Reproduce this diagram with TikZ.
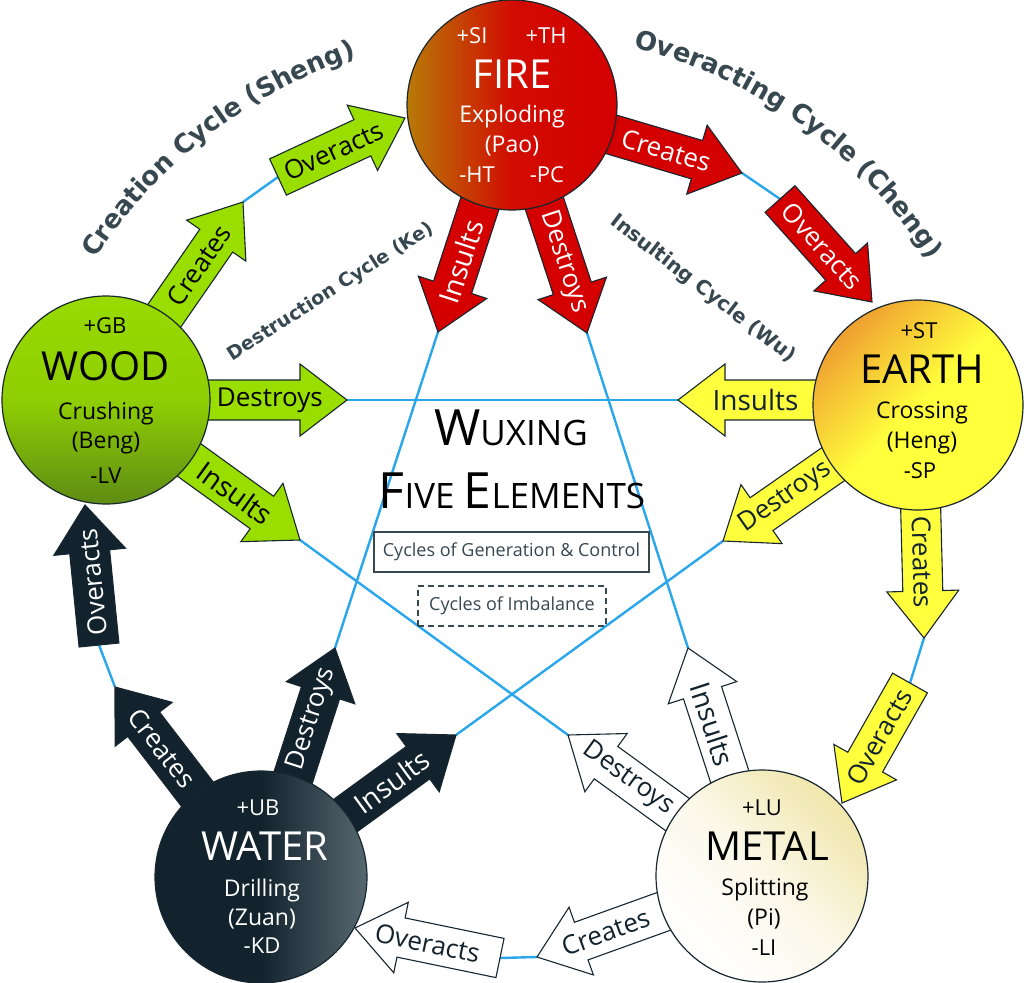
\documentclass[tikz,border=0pt]{standalone}
\usepackage{fontspec}
\setmainfont{Open Sans}
\newfontfamily\cyc{DejaVu Sans}
\usetikzlibrary{calc,decorations.text}

\definecolor{outl}{RGB}{23,38,47}
\definecolor{blu}{RGB}{42,166,236}
\definecolor{grn}{RGB}{154,222,0}
\definecolor{rd}{RGB}{212,0,0}
\definecolor{yel}{RGB}{255,255,62}
\definecolor{drk}{RGB}{18,35,46}
\definecolor{slate}{RGB}{55,72,80}
\definecolor{fireL}{RGB}{184,122,8}
\definecolor{woodT}{RGB}{152,218,0}
\definecolor{woodB}{RGB}{94,140,20}
\definecolor{earthO}{RGB}{239,160,48}
\definecolor{earthY}{RGB}{255,255,60}
\definecolor{waterL}{RGB}{88,104,112}
\definecolor{metalY}{RGB}{240,230,172}

\newcommand\fs[1]{\fontsize{#1bp}{#1bp}\selectfont}
\newcommand\cycfmt{\cyc\bfseries\fontsize{26bp}{30bp}\selectfont\color{slate}}

% block arrow: style, from, tip, label pos, label rotation, label style, label
\newcommand\BA[7]{%
  \coordinate (hb) at ($(#3)!47bp!(#2)$);
  \path[#1] ($(#2)!20bp!90:(#3)$) -- ($(hb)!20bp!90:(#3)$) -- ($(hb)!36bp!90:(#3)$) -- (#3)
     -- ($(hb)!36bp!-90:(#3)$) -- ($(hb)!20bp!-90:(#3)$) -- ($(#2)!20bp!-90:(#3)$) -- cycle;
  \path (#2) -- (#3) node[pos=#4, rotate=#5, #6] {#7};
}

\begin{document}
\begin{tikzpicture}[x=1bp,y=-1bp,
  ab/.style={draw=outl, line width=1.1bp, line join=miter},
  ga/.style={ab, fill=grn}, ra/.style={ab, fill=rd}, ya/.style={ab, fill=yel},
  da/.style={ab, fill=drk}, wa/.style={ab, fill=white},
  lbl/.style={font=\fs{26}, inner sep=0pt},
  gt/.style={lbl, text=black}, wt/.style={lbl, text=white}, dt/.style={lbl, text=drk},
  el/.style={circle, inner sep=0pt, draw=outl, line width=1.2bp},
  blueline/.style={draw=blu, line width=2.4bp},
  ctext/.style={anchor=base, inner sep=0pt},
  ]
\useasboundingbox (0,0) rectangle (1024,983);
\fill[white] (0,0) rectangle (1024,983);

% centres
\coordinate (cF) at (512,105);
\coordinate (cW) at (106,400);
\coordinate (cE) at (918,405);
\coordinate (cEi) at (918,400);
\coordinate (cA) at (261,877);
\coordinate (cM) at (762,876);
% arrow ends
\coordinate (wC) at (243,202); \coordinate (wOs) at (278,177); \coordinate (wO) at (405,118);
\coordinate (wD) at (347,400); \coordinate (wI) at (300,540);
\coordinate (fC) at (742,173); \coordinate (fOs) at (780,199); \coordinate (fO) at (872,302);
\coordinate (fI) at (438,332); \coordinate (fD) at (587,333);
\coordinate (eI) at (678,400); \coordinate (eD) at (723,541); \coordinate (eC) at (924,638);
\coordinate (eOs) at (910,683); \coordinate (eO) at (842,803);
\coordinate (mI) at (688,648); \coordinate (mD) at (568,735); \coordinate (mC) at (537,957);
\coordinate (mOs) at (500,958); \coordinate (mO) at (355,928);
\coordinate (aC) at (115,687); \coordinate (aOs) at (99,645); \coordinate (aO) at (85,505);
\coordinate (aD) at (335,648); \coordinate (aI) at (456,735);

% blue cycle lines
\draw[blueline] (wC) -- (wOs);
\draw[blueline] (fC) -- (fOs);
\draw[blueline] (eC) -- (eOs);
\draw[blueline] (mC) -- (mOs);
\draw[blueline] (aC) -- (aOs);
\draw[blueline] (wD) -- (eI);
\draw[blueline] (wI) -- (mD);
\draw[blueline] (fI) -- (aD);
\draw[blueline] (fD) -- (mI);
\draw[blueline] (eD) -- (aI);

% WOOD arrows
\BA{ga}{cW}{wC}{0.68}{55.3}{gt}{Creates}
\BA{ga}{wOs}{wO}{0.44}{24.9}{gt}{Overacts}
\BA{ga}{cW}{wD}{0.68}{0}{gt}{Destroys}
\BA{ga}{cW}{wI}{0.665}{-35.8}{gt,font=\fs{28}}{Insults}
% FIRE arrows
\BA{ra}{cF}{fC}{0.67}{-16.5}{wt}{Creates}
\BA{ra}{fOs}{fO}{0.46}{-48.2}{wt}{Overacts}
\BA{ra}{cF}{fI}{0.69}{72}{wt,font=\fs{28}}{Insults}
\BA{ra}{cF}{fD}{0.687}{-71.8}{wt}{Destroys}
% EARTH arrows
\BA{ya}{cEi}{eI}{0.677}{0}{dt,font=\fs{28}}{Insults}
\BA{ya}{cE}{eD}{0.68}{34.9}{dt}{Destroys}
\BA{ya}{cE}{eC}{0.674}{-88.5}{dt}{Creates}
\BA{ya}{eOs}{eO}{0.45}{60.5}{dt}{Overacts}
% METAL arrows
\BA{wa}{cM}{mI}{0.666}{-72}{dt,font=\fs{28}}{Insults}
\BA{wa}{cM}{mD}{0.69}{-36}{dt}{Destroys}
\BA{wa}{cM}{mC}{0.695}{19.8}{dt}{Creates}
\BA{wa}{mOs}{mO}{0.5}{-11.7}{dt}{Overacts}
% WATER arrows
\BA{da}{cA}{aC}{0.677}{-52.5}{wt}{Creates}
\BA{da}{aOs}{aO}{0.45}{95.7}{wt}{Overacts}
\BA{da}{cA}{aD}{0.69}{72.1}{wt}{Destroys}
\BA{da}{cA}{aI}{0.67}{36}{wt,font=\fs{28}}{Insults}

% element circles
\node[el, minimum size=210bp, left color=fireL, right color=rd, middle color=rd!90!fireL] (fire) at (cF) {};
\node[el, minimum size=208bp, top color=woodT, bottom color=woodB, middle color=woodT!85!woodB] (wood) at (cW) {};
\node[el, minimum size=210bp, top color=earthO, bottom color=earthY, middle color=earthY, shading angle=45] (earth) at (cE) {};
\node[el, minimum size=212bp, left color=drk, right color=waterL, middle color=drk] (water) at (cA) {};
\node[el, minimum size=212bp, top color=metalY, bottom color=white, middle color=metalY!25!white, shading angle=-45] (metal) at (cM) {};

% FIRE text
\node[ctext, text=white, font=\fs{22}] (fsi) at (472,43) {+SI};
\node[ctext, text=white, font=\fs{22}] (fth) at (546,43) {+TH};
\node[ctext, text=white, font=\fs{40}] (fname) at (512,88) {FIRE};
\node[ctext, text=white, font=\fs{23}] (f1) at (512,122) {Exploding};
\node[ctext, text=white, font=\fs{23}] (f2) at (512,152) {(Pao)};
\node[ctext, text=white, font=\fs{22}] (fht) at (477,182) {-HT};
\node[ctext, text=white, font=\fs{22}] (fpc) at (547,182) {-PC};
% WOOD text
\node[ctext, font=\fs{22}] (wgb) at (105,333) {+GB};
\node[ctext, font=\fs{40}] (wname) at (106,380) {WOOD};
\node[ctext, font=\fs{23}] (w1) at (106,419) {Crushing};
\node[ctext, font=\fs{23}] (w2) at (106,448) {(Beng)};
\node[ctext, font=\fs{22}] (w3) at (106,483) {-LV};
% EARTH text
\node[ctext, font=\fs{22}] (est) at (919,338) {+ST};
\node[ctext, font=\fs{40}] (ename) at (922,383) {EARTH};
\node[ctext, font=\fs{23}] (e1) at (922,418) {Crossing};
\node[ctext, font=\fs{23}] (e2) at (922,448) {(Heng)};
\node[ctext, font=\fs{22}] (e3) at (920,478) {-SP};
% WATER text
\node[ctext, text=white, font=\fs{22}] (aub) at (258,815) {+UB};
\node[ctext, text=white, font=\fs{40}] (aname) at (265,860) {WATER};
\node[ctext, text=white, font=\fs{23}] (a1) at (262,896) {Drilling};
\node[ctext, text=white, font=\fs{23}] (a2) at (262,925) {(Zuan)};
\node[ctext, text=white, font=\fs{22}] (a3) at (262,953) {-KD};
% METAL text
\node[ctext, font=\fs{22}] (mlu) at (762,815) {+LU};
\node[ctext, font=\fs{40}] (mname) at (767,860) {METAL};
\node[ctext, font=\fs{23}] (m1) at (765,895) {Splitting};
\node[ctext, font=\fs{23}] (m2) at (764,925) {(Pi)};
\node[ctext, font=\fs{22}] (m3) at (764,955) {-LI};

% title
\node[ctext] (title1) at (511,445) {\fs{50}W\fs{35}UXING};
\node[ctext] (title2) at (512,508) {\fs{50}F\fs{35}IVE \fs{50}E\fs{35}LEMENTS};
\node[draw=slate, line width=1.2bp, text=slate, font=\fs{18}, minimum width=275bp, minimum height=40bp, inner sep=0pt] (box1) at (511.5,552) {Cycles of Generation \& Control};
\node[draw=slate, line width=1.2bp, dash pattern=on 6bp off 4bp, text=slate, font=\fs{18}, minimum width=188bp, minimum height=40bp, inner sep=0pt] (box2) at (512,606) {Cycles of Imbalance};

% cycle names
\path[decorate, decoration={text along path, text align=center, text={|\cycfmt|Creation Cycle (Sheng)}}]
  plot[domain=0:60, samples=61] ({512+496*cos(157.7-\x)},{528-496*sin(157.7-\x)});
\path[decorate, decoration={text along path, text align=center, text={|\cycfmt|Overacting Cycle (Cheng)}}]
  plot[domain=0:60, samples=61] ({512+496*cos(84.25-\x)},{528-496*sin(84.25-\x)});
\node[text=slate, font={\cyc\bfseries\fs{19}}, rotate=32.6, inner sep=0pt] (destr) at (331,292) {Destruction Cycle (Ke)};
\node[text=slate, font={\cyc\bfseries\fs{20}}, rotate=-37.7, inner sep=0pt] (insul) at (703,289) {Insulting Cycle (Wu)};
\end{tikzpicture}
\end{document}
